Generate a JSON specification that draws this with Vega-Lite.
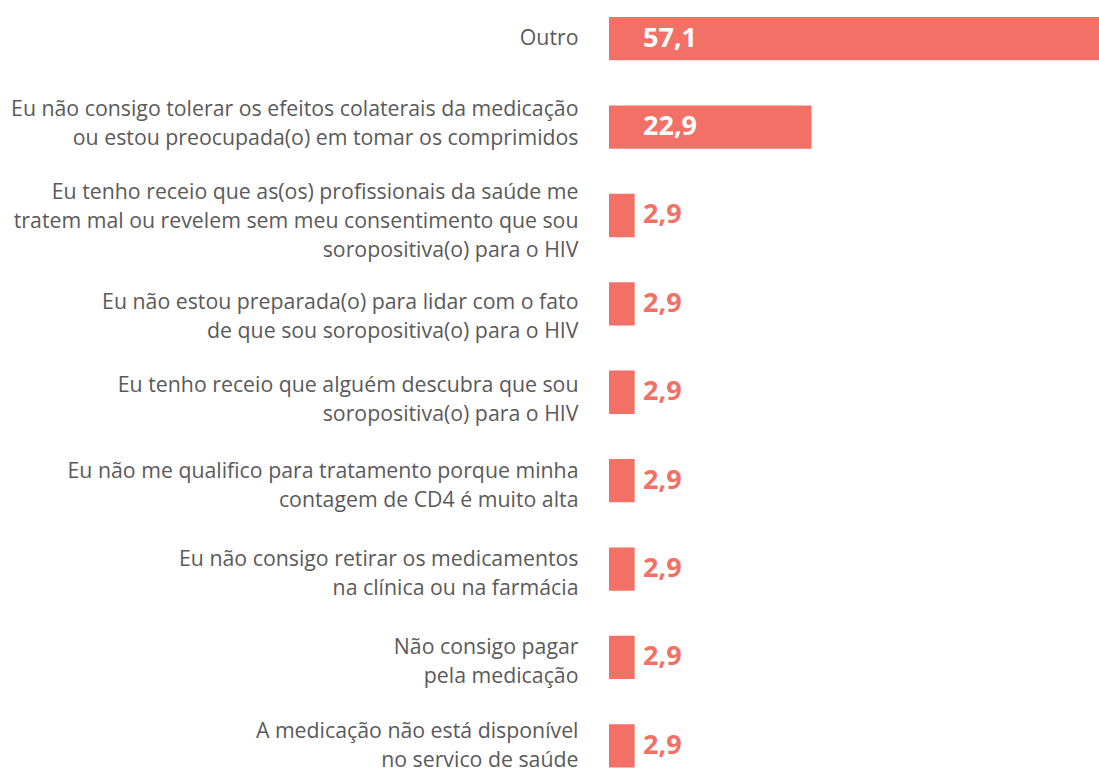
{
  "$schema": "https://vega.github.io/schema/vega-lite/v6.json",
  "autosize": "none",
  "padding": {"left": 609, "top": 0, "right": 0, "bottom": 0},
  "width": 490,
  "height": 771,
  "background": "white",
  "config": {
    "view": {"stroke": null},
    "locale": {"number": {"decimal": ",", "thousands": ".", "grouping": [3], "currency": ["R$", ""]}}
  },
  "data": {
    "values": [
      {"motivo": "Outro", "valor": 57.1},
      {"motivo": "Eu não consigo tolerar os efeitos colaterais da medicação|ou estou preocupada(o) em tomar os comprimidos", "valor": 22.9},
      {"motivo": "Eu tenho receio que as(os) profissionais da saúde me|tratem mal ou revelem sem meu consentimento que sou|soropositiva(o) para o HIV", "valor": 2.9},
      {"motivo": "Eu não estou preparada(o) para lidar com o fato|de que sou soropositiva(o) para o HIV", "valor": 2.9},
      {"motivo": "Eu tenho receio que alguém descubra que sou|soropositiva(o) para o HIV", "valor": 2.9},
      {"motivo": "Eu não me qualifico para tratamento porque minha|contagem de CD4 é muito alta", "valor": 2.9},
      {"motivo": "Eu não consigo retirar os medicamentos|na clínica ou na farmácia", "valor": 2.9},
      {"motivo": "Não consigo pagar|pela medicação", "valor": 2.9},
      {"motivo": "A medicação não está disponível|no servico de saúde", "valor": 2.9}
    ]
  },
  "encoding": {
    "y": {
      "field": "motivo",
      "type": "nominal",
      "sort": null,
      "scale": {"paddingInner": 0.51, "paddingOuter": 0.116, "align": 0.83},
      "axis": {
        "title": null,
        "domain": false,
        "ticks": false,
        "tickSize": 0,
        "labelPadding": 31,
        "labelExpr": "split(datum.label, '|')",
        "labelFont": "Open Sans",
        "labelFontSize": 21.3,
        "labelColor": "#5a5a5a",
        "labelLineHeight": 29,
        "labelLimit": 800,
        "labelAlign": "right",
        "labelBaseline": "middle",
        "labelOffset": {
          "condition": [
            {"test": "indexof(datum.value, 'tolerar') >= 0", "value": -17.5},
            {"test": "indexof(datum.value, 'preparada') >= 0", "value": -0.5},
            {"test": "indexof(datum.value, 'alguém') >= 0", "value": -6.5},
            {"test": "indexof(datum.value, 'disponível') >= 0", "value": -14},
            {"test": "length(split(datum.value, '|')) == 3", "value": -22},
            {"test": "length(split(datum.value, '|')) == 2", "value": -9}
          ],
          "value": 0
        }
      }
    }
  },
  "layer": [
    {
      "mark": {"type": "bar", "color": "#f27066"},
      "encoding": {
        "x": {"field": "valor", "type": "quantitative", "scale": {"domain": [0, 55.4], "nice": false, "clamp": true}, "axis": null}
      }
    },
    {
      "mark": {"type": "text", "align": "left", "baseline": "middle", "dx": 34, "font": "Open Sans", "fontWeight": "bold", "fontSize": 27},
      "encoding": {
        "x": {"datum": 0, "type": "quantitative"},
        "text": {"field": "valor", "type": "quantitative", "format": ".1f"},
        "color": {"condition": {"test": "datum.valor > 10", "value": "white"}, "value": "#f27066"}
      }
    }
  ]
}
